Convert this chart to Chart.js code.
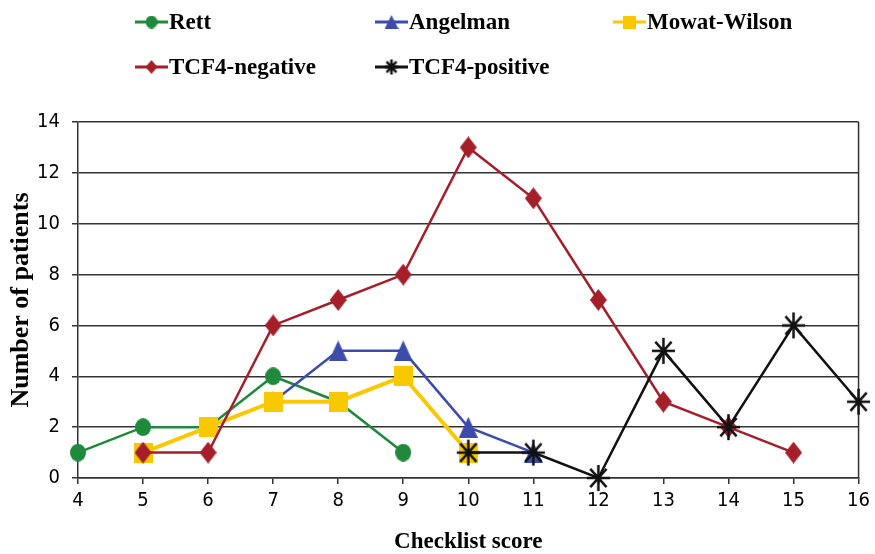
<!DOCTYPE html>
<html>
<head>
<meta charset="utf-8">
<script src="https://cdn.jsdelivr.net/npm/chart.js@4/dist/chart.umd.min.js"></script>
<style>
  html, body { margin: 0; padding: 0; background: #fff; }
  #wrap { width: 875px; height: 554px; }
</style>
</head>
<body>
<div id="wrap"><canvas id="grafico"></canvas></div>
<script>
// Dados
const escores = ['4', '5', '6', '7', '8', '9', '10', '11', '12', '13', '14', '15', '16'];
const rett = [1, 2, 2, 4, 3, 1, null, null, null, null, null, null, null];
const angelman = [null, null, null, 3, 5, 5, 2, 1, null, null, null, null, null];
const mowatWilson = [null, 1, 2, 3, 3, 4, 1, null, null, null, null, null, null];
const tcf4Negativo = [null, 1, 1, 6, 7, 8, 13, 11, 7, 3, 2, 1, null];
const tcf4Positivo = [null, null, null, null, null, null, 1, 1, 0, 5, 2, 6, 3];
const ticksY = [0, 2, 4, 6, 8, 10, 12, 14];

const VERDE = '#1f8a3b';
const AZUL = '#3d4caa';
const AMARELO = '#f9c800';
const VERMELHO = '#a51f2b';
const PRETO = '#111111';

const fonteNumeros = "'DejaVu Sans Condensed', 'Liberation Sans Narrow', 'Liberation Sans', Arial, sans-serif";
const fonteTitulos = "'Liberation Serif', 'Times New Roman', serif";

// posições da legenda (desenhada à mão)
const posLegenda = [
    { x: 135, y: 22 }, { x: 375, y: 22 }, { x: 613, y: 22 },
    { x: 135, y: 67 }, { x: 375, y: 67 }
];

// marcadores um pouco mais altos que largos, como no original
function criarMarcador(estilo, w, h, cor) {
    const c = document.createElement('canvas');
    c.width = w;
    c.height = h;
    const g = c.getContext('2d');
    g.fillStyle = cor;
    g.strokeStyle = cor;
    g.beginPath();
    if (estilo === 'circle') {
        g.ellipse(w / 2, h / 2, w / 2, h / 2, 0, 0, Math.PI * 2);
        g.fill();
    } else if (estilo === 'triangle') {
        g.moveTo(w / 2, 0);
        g.lineTo(w, h);
        g.lineTo(0, h);
        g.closePath();
        g.fill();
    } else if (estilo === 'rect') {
        g.rect(0, 0, w, h);
        g.fill();
    } else if (estilo === 'rectRot') {
        g.moveTo(w / 2, 0);
        g.lineTo(w, h / 2);
        g.lineTo(w / 2, h);
        g.lineTo(0, h / 2);
        g.closePath();
        g.fill();
    } else {
        g.lineWidth = w > 15 ? 2.5 : 1.6;
        const cx = w / 2, cy = h / 2;
        for (let i = 0; i < 4; i++) {
            const a = i * Math.PI / 4;
            const dx = Math.cos(a) * (w / 2 - 1);
            const dy = Math.sin(a) * (h / 2 - 1);
            g.moveTo(cx - dx, cy - dy);
            g.lineTo(cx + dx, cy + dy);
        }
        g.stroke();
    }
    return c;
}

const marcadores = {
    'Rett': [criarMarcador('circle', 16, 18, VERDE), criarMarcador('circle', 12, 13, VERDE)],
    'Angelman': [criarMarcador('triangle', 19, 21, AZUL), criarMarcador('triangle', 14, 14, AZUL)],
    'Mowat-Wilson': [criarMarcador('rect', 19, 20, AMARELO), criarMarcador('rect', 13, 13, AMARELO)],
    'TCF4-negative': [criarMarcador('rectRot', 17, 22, VERMELHO), criarMarcador('rectRot', 12, 14, VERMELHO)],
    'TCF4-positive': [criarMarcador('star', 25, 28, PRETO), criarMarcador('star', 16, 17, PRETO)]
};

const legendaManual = {
    id: 'legendaManual',
    afterDraw(chart) {
        const ctx = chart.ctx;
        chart.data.datasets.forEach((ds, i) => {
            const p = posLegenda[i];
            ctx.save();
            ctx.strokeStyle = ds.borderColor;
            ctx.lineWidth = 3;
            ctx.beginPath();
            ctx.moveTo(p.x, p.y);
            ctx.lineTo(p.x + 33, p.y);
            ctx.stroke();
            const m = marcadores[ds.label][1];
            ctx.drawImage(m, p.x + 16.5 - m.width / 2, p.y - m.height / 2);
            ctx.fillStyle = '#000';
            ctx.font = "bold 23px " + fonteTitulos;
            ctx.textBaseline = 'middle';
            ctx.fillText(ds.label, p.x + 34, p.y + 1);
            ctx.restore();
        });
    }
};

// borda direita da área do gráfico
const bordaDireita = {
    id: 'bordaDireita',
    beforeDatasetsDraw(chart) {
        const a = chart.chartArea;
        const ctx = chart.ctx;
        ctx.save();
        ctx.strokeStyle = '#333';
        ctx.lineWidth = 1.5;
        ctx.beginPath();
        ctx.moveTo(a.right, a.top);
        ctx.lineTo(a.right, a.bottom);
        ctx.stroke();
        ctx.restore();
    }
};

function serie(label, dados, cor, espessura, ordem) {
    return {
        label: label,
        data: dados,
        borderColor: cor,
        backgroundColor: cor,
        borderWidth: espessura,
        pointStyle: marcadores[label][0],
        pointRadius: 10,
        pointHoverRadius: 10,
        tension: 0,
        clip: false,
        order: ordem
    };
}

const ctx = document.getElementById('grafico').getContext('2d');
new Chart(ctx, {
    type: 'line',
    data: {
        labels: escores,
        datasets: [
            serie('Rett', rett, VERDE, 2.5, 4),
            serie('Angelman', angelman, AZUL, 2.5, 3),
            serie('Mowat-Wilson', mowatWilson, AMARELO, 4, 2),
            serie('TCF4-negative', tcf4Negativo, VERMELHO, 2.5, 1),
            serie('TCF4-positive', tcf4Positivo, PRETO, 2.5, 0)
        ]
    },
    options: {
        responsive: true,
        maintainAspectRatio: false,
        animation: false,
        layout: { padding: { top: 122, right: 14, left: 0, bottom: 0 } },
        plugins: {
            legend: { display: false },
            tooltip: { enabled: false }
        },
        scales: {
            x: {
                offset: false,
                afterFit: scale => { scale.height = 76; },
                grid: { drawOnChartArea: false, drawTicks: true, tickLength: 6, color: '#333', lineWidth: 1.5 },
                border: { color: '#333', width: 1.5 },
                ticks: {
                    color: '#000',
                    padding: 5,
                    maxRotation: 0,
                    autoSkip: false,
                    font: { family: fonteNumeros, size: 20 }
                },
                title: {
                    display: true,
                    text: 'Checklist score',
                    color: '#000',
                    padding: 0,
                    font: { family: fonteTitulos, size: 23, weight: 'bold', lineHeight: 1 }
                }
            },
            y: {
                min: 0,
                max: 14,
                afterFit: scale => { scale.width = 78; },
                afterBuildTicks: scale => { scale.ticks = ticksY.map(v => ({ value: v })); },
                grid: { color: '#333', lineWidth: 1.5, tickLength: 6 },
                border: { color: '#333', width: 1.5 },
                ticks: {
                    color: '#000',
                    padding: 12,
                    font: { family: fonteNumeros, size: 20 }
                },
                title: {
                    display: true,
                    text: 'Number of patients',
                    color: '#000',
                    padding: { top: 6, bottom: 0 },
                    font: { family: fonteTitulos, size: 26, weight: 'bold', lineHeight: 1.2 }
                }
            }
        }
    },
    plugins: [legendaManual, bordaDireita]
});
</script>
</body>
</html>
